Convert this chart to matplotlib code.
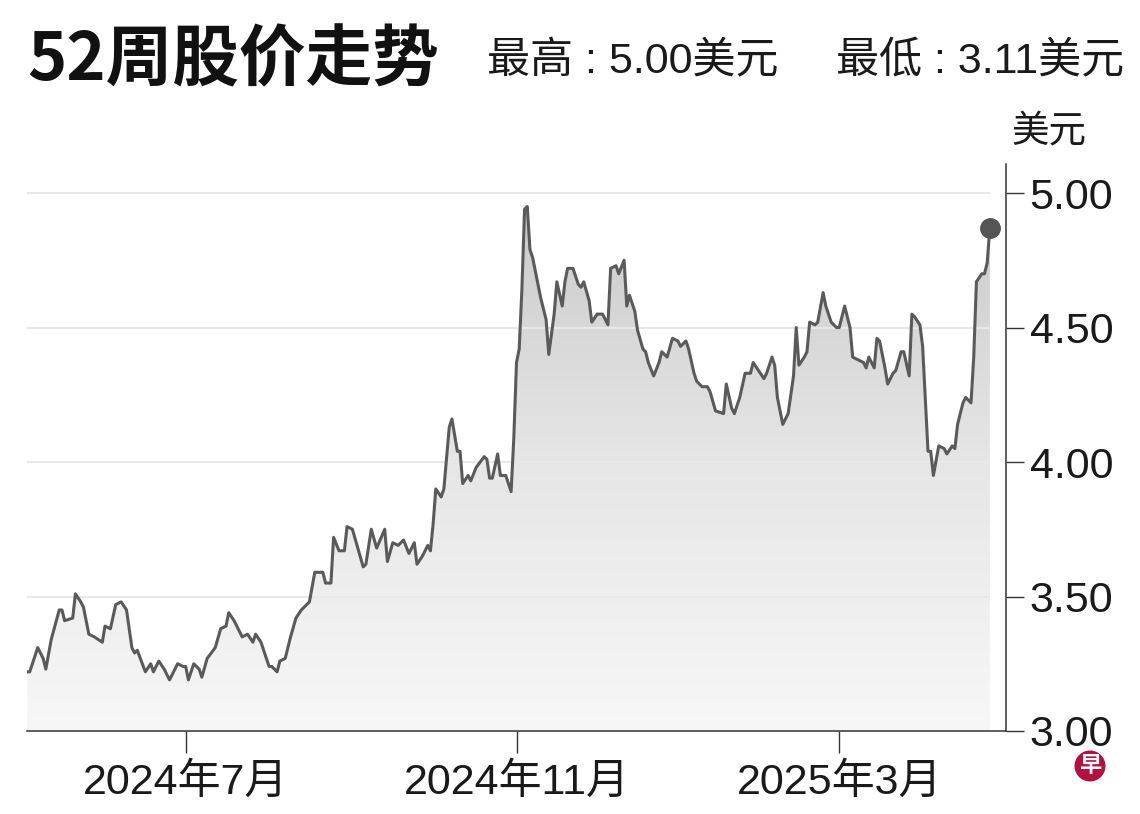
import matplotlib
matplotlib.use("Agg")
import matplotlib.pyplot as plt
import matplotlib.dates as mdates
import matplotlib.font_manager as fm
import numpy as np
import pandas as pd
from matplotlib.colors import LinearSegmentedColormap

# ── Data ────────────────────────────────────────────────────────────────────
dates = [
    "2024-05-03", "2024-05-04", "2024-05-07", "2024-05-09", "2024-05-10", "2024-05-12",
    "2024-05-15", "2024-05-16", "2024-05-17", "2024-05-20", "2024-05-21", "2024-05-23",
    "2024-05-24", "2024-05-26", "2024-05-28", "2024-05-31",
    "2024-06-01", "2024-06-03", "2024-06-05", "2024-06-07", "2024-06-09", "2024-06-11",
    "2024-06-12", "2024-06-13", "2024-06-16", "2024-06-18", "2024-06-19", "2024-06-21",
    "2024-06-23", "2024-06-25", "2024-06-26", "2024-06-28", "2024-06-30",
    "2024-07-01", "2024-07-02", "2024-07-04", "2024-07-06", "2024-07-07", "2024-07-09",
    "2024-07-12", "2024-07-14", "2024-07-16", "2024-07-17", "2024-07-19", "2024-07-22",
    "2024-07-24", "2024-07-26", "2024-07-27", "2024-07-29",
    "2024-08-01", "2024-08-02", "2024-08-04", "2024-08-05", "2024-08-07", "2024-08-09",
    "2024-08-11", "2024-08-13", "2024-08-16", "2024-08-18", "2024-08-19", "2024-08-21",
    "2024-08-22", "2024-08-24", "2024-08-25", "2024-08-27", "2024-08-29", "2024-08-30",
    "2024-09-01", "2024-09-03", "2024-09-05", "2024-09-06", "2024-09-08", "2024-09-10",
    "2024-09-13", "2024-09-14", "2024-09-16", "2024-09-18", "2024-09-20", "2024-09-22",
    "2024-09-24", "2024-09-25", "2024-09-27", "2024-09-29", "2024-09-30",
    "2024-10-01", "2024-10-02", "2024-10-04", "2024-10-05", "2024-10-07", "2024-10-08",
    "2024-10-10", "2024-10-11", "2024-10-12", "2024-10-14", "2024-10-15", "2024-10-17",
    "2024-10-20", "2024-10-21", "2024-10-22", "2024-10-23", "2024-10-25", "2024-10-26",
    "2024-10-28", "2024-10-30", "2024-10-31",
    "2024-11-01", "2024-11-02", "2024-11-03", "2024-11-04", "2024-11-05", "2024-11-06",
    "2024-11-07", "2024-11-10", "2024-11-12", "2024-11-13", "2024-11-15", "2024-11-16",
    "2024-11-18", "2024-11-19", "2024-11-20", "2024-11-22", "2024-11-24", "2024-11-25",
    "2024-11-26", "2024-11-28", "2024-11-29",
    "2024-12-01", "2024-12-03", "2024-12-05", "2024-12-06", "2024-12-08", "2024-12-09",
    "2024-12-11", "2024-12-12", "2024-12-13", "2024-12-15", "2024-12-16", "2024-12-18",
    "2024-12-19", "2024-12-20", "2024-12-22", "2024-12-24", "2024-12-25", "2024-12-27",
    "2024-12-29", "2024-12-31",
    "2025-01-01", "2025-01-03", "2025-01-04", "2025-01-06", "2025-01-07", "2025-01-09",
    "2025-01-11", "2025-01-12", "2025-01-14", "2025-01-17", "2025-01-18", "2025-01-20",
    "2025-01-21", "2025-01-23", "2025-01-25", "2025-01-27", "2025-01-28", "2025-01-30",
    "2025-02-01", "2025-02-02", "2025-02-04", "2025-02-05", "2025-02-06", "2025-02-08",
    "2025-02-09", "2025-02-10", "2025-02-12", "2025-02-13", "2025-02-14", "2025-02-16",
    "2025-02-17", "2025-02-18", "2025-02-20", "2025-02-21", "2025-02-23", "2025-02-24",
    "2025-02-26", "2025-02-28",
    "2025-03-01", "2025-03-03", "2025-03-05", "2025-03-06", "2025-03-08", "2025-03-10",
    "2025-03-11", "2025-03-12", "2025-03-14", "2025-03-15", "2025-03-16", "2025-03-18",
    "2025-03-19", "2025-03-21", "2025-03-22", "2025-03-24", "2025-03-25", "2025-03-27",
    "2025-03-28", "2025-03-29", "2025-03-31",
    "2025-04-01", "2025-04-03", "2025-04-04", "2025-04-05", "2025-04-07", "2025-04-09",
    "2025-04-10", "2025-04-12", "2025-04-13", "2025-04-14", "2025-04-16", "2025-04-17",
    "2025-04-19", "2025-04-20", "2025-04-21", "2025-04-23", "2025-04-24", "2025-04-25",
    "2025-04-26",
]

prices = [
    3.22, 3.22, 3.31, 3.27, 3.23, 3.34, 3.45, 3.45, 3.41, 3.42, 3.51, 3.48, 3.46, 3.36, 3.35, 3.33,
    3.39, 3.38, 3.47, 3.48, 3.45, 3.31, 3.29, 3.30, 3.22, 3.25, 3.22, 3.26, 3.23, 3.19, 3.21, 3.25, 3.24,
    3.24, 3.19, 3.25, 3.23, 3.20, 3.27, 3.31, 3.38, 3.39, 3.44, 3.41, 3.35, 3.36, 3.33, 3.36, 3.33,
    3.24, 3.24, 3.22, 3.26, 3.27, 3.35, 3.42, 3.45, 3.48, 3.59, 3.59, 3.59, 3.55, 3.55, 3.72, 3.67, 3.67, 3.76,
    3.75, 3.68, 3.61, 3.62, 3.75, 3.68, 3.75, 3.63, 3.70, 3.69, 3.71, 3.66, 3.70, 3.62, 3.65, 3.69, 3.67,
    3.77, 3.90, 3.87, 3.90, 4.13, 4.16, 4.04, 4.04, 3.92, 3.95, 3.93, 3.98, 4.02, 4.01, 3.94, 3.94, 4.03, 3.95,
    3.95, 3.89, 4.09,
    4.37, 4.42, 4.64, 4.94, 4.95, 4.79, 4.76, 4.61, 4.53, 4.40, 4.55, 4.67, 4.58, 4.67, 4.72, 4.72, 4.66, 4.65,
    4.67, 4.60, 4.52,
    4.55, 4.55, 4.51, 4.72, 4.73, 4.70, 4.75, 4.58, 4.62, 4.56, 4.49, 4.42, 4.41, 4.37, 4.32, 4.37, 4.41, 4.39,
    4.46, 4.45,
    4.43, 4.45, 4.42, 4.33, 4.30, 4.28, 4.28, 4.26, 4.19, 4.18, 4.29, 4.20, 4.18, 4.24, 4.33, 4.33, 4.37, 4.34,
    4.31, 4.33, 4.39, 4.36, 4.24, 4.14, 4.16, 4.18, 4.32, 4.50, 4.36, 4.39, 4.41, 4.52, 4.51, 4.52, 4.63, 4.58,
    4.52, 4.50,
    4.50, 4.58, 4.50, 4.39, 4.38, 4.37, 4.35, 4.39, 4.35, 4.46, 4.45, 4.35, 4.29, 4.33, 4.34, 4.41, 4.41, 4.32,
    4.55, 4.54, 4.51,
    4.43, 4.04, 4.04, 3.95, 4.06, 4.05, 4.03, 4.06, 4.05, 4.14, 4.22, 4.24, 4.22, 4.39, 4.67, 4.70, 4.70, 4.74,
    4.87,
]

tick_dates = ["2024-07-01", "2024-11-01", "2025-03-01"]
tick_labels = ["2024年7月", "2024年11月", "2025年3月"]
y_ticks = [3.0, 3.5, 4.0, 4.5, 5.0]
y_labels = ["3.00", "3.50", "4.00", "4.50", "5.00"]
title = "52周股价走势"
high_text = "最高 : 5.00美元"
low_text = "最低 : 3.11美元"
unit = "美元"

# ── Fonts ───────────────────────────────────────────────────────────────────
installed = {f.name for f in fm.fontManager.ttflist}
NARROW = "Liberation Sans Narrow" if "Liberation Sans Narrow" in installed else "Liberation Sans"
CJK = "Noto Sans CJK SC"
MIXED = [NARROW, CJK, "DejaVu Sans"]
plt.rcParams["font.family"] = MIXED

W, H = 1140, 814


def fx(px):
    return px / W


def fy(py):
    return 1 - py / H


fig = plt.figure(figsize=(W / 100, H / 100), dpi=100)
fig.patch.set_facecolor("white")
ax = fig.add_axes([fx(27), fy(731), fx(1006) - fx(27), fy(164) - fy(731)])

x = mdates.date2num(pd.to_datetime(dates))
y = np.array(prices)
x_right = mdates.date2num(pd.Timestamp("2025-05-02"))
y_bottom, y_top = 3.0, 5.108

# gradient fill under the line
cmap = LinearSegmentedColormap.from_list("fade", ["#f7f7f7", "#e6e6e6", "#c9c9c9"])
grad = np.linspace(0, 1, 256).reshape(-1, 1)
im = ax.imshow(grad, cmap=cmap, aspect="auto", origin="lower",
               extent=[x[0], x[-1], 3.0, 5.0], zorder=1, interpolation="bicubic")
poly = ax.fill_between(x, y, y_bottom, facecolor="none", edgecolor="none")
im.set_clip_path(poly.get_paths()[0], transform=ax.transData)

# grid lines stop where the data stops
ax.hlines(y_ticks[1:], x[0], x[-1], colors="#e8e8e8", linewidth=1.5, zorder=2)

ax.plot(x, y, color="#5a5a5a", linewidth=2.2, solid_joinstyle="round",
        solid_capstyle="round", zorder=3)
ax.plot(x[-1], y[-1], "o", color="#555555", markersize=14, zorder=4)

ax.set_xlim(x[0], x_right)
ax.set_ylim(y_bottom, y_top)

for side in ("top", "left"):
    ax.spines[side].set_visible(False)
for side in ("right", "bottom"):
    ax.spines[side].set_color("#333333")
    ax.spines[side].set_linewidth(1.1)

ax.yaxis.tick_right()
ax.set_yticks(y_ticks)
ax.set_yticklabels(y_labels)
ax.set_xticks(mdates.date2num(pd.to_datetime(tick_dates)))
ax.set_xticklabels(tick_labels)
ax.tick_params(axis="y", length=13, width=1.0, color="#333333", pad=4,
               labelsize=31, labelcolor="#1a1a1a")
ax.tick_params(axis="x", length=16, width=1.0, color="#333333", pad=7,
               labelsize=31, labelcolor="#1a1a1a")

# ── Texts ───────────────────────────────────────────────────────────────────
fig.text(fx(27), fy(61), title, family=[CJK], fontweight="heavy", fontsize=48,
         ha="left", va="center", color="#111111")
fig.text(fx(487), fy(62), high_text, family=MIXED, fontsize=31,
         ha="left", va="center", color="#1a1a1a")
fig.text(fx(836), fy(62), low_text, family=MIXED, fontsize=31,
         ha="left", va="center", color="#1a1a1a")
fig.text(fx(1049), fy(131), unit, family=[CJK], fontsize=27,
         ha="center", va="center", color="#1a1a1a")

# publisher badge
fig.text(fx(1090), fy(766), "早", family=[CJK], fontsize=16, fontweight="bold",
         color="white", ha="center", va="center",
         bbox=dict(boxstyle="circle,pad=0.18", fc="#b3123e", ec="none"))

fig.savefig("out.png", dpi=100, facecolor="white")
